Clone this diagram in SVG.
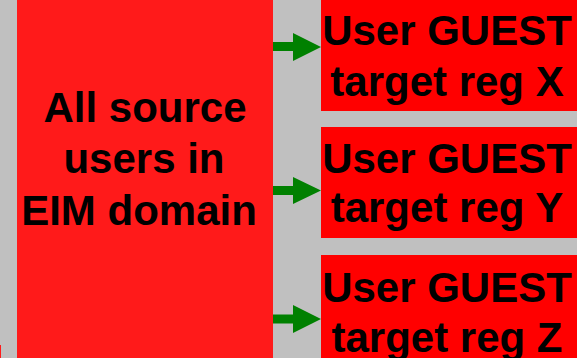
<svg xmlns="http://www.w3.org/2000/svg" width="577" height="358" viewBox="0 0 577 358">
<style>
.src{fill:#FF1A1A}
.tgt{fill:#FF0000}
.lbl{font-family:"Liberation Sans",Arial,sans-serif;font-weight:bold;font-size:42px;fill:#000;text-anchor:middle}
.arr{fill:#008000}
</style>
<rect x="0" y="0" width="577" height="358" fill="#C0C0C0"/>
<rect x="0" y="345" width="1" height="13" fill="#FF1A1A"/>
<g id="source">
<rect class="src" x="17" y="0" width="256" height="358"/>
<text class="lbl" x="145" y="122">All source</text>
<text class="lbl" x="144" y="173">users in</text>
<text class="lbl" x="139" y="225">EIM domain</text>
</g>
<g id="targetX">
<rect class="tgt" x="321" y="0" width="260" height="111"/>
<text class="lbl" x="447" y="45">User GUEST</text>
<text class="lbl" x="447" y="96">target reg X</text>
</g>
<g id="targetY">
<rect class="tgt" x="321" y="127" width="260" height="111"/>
<text class="lbl" x="447" y="173">User GUEST</text>
<text class="lbl" x="447" y="222">target reg Y</text>
</g>
<g id="targetZ">
<rect class="tgt" x="321" y="255" width="260" height="110"/>
<text class="lbl" x="447" y="302">User GUEST</text>
<text class="lbl" x="447" y="352">target reg Z</text>
</g>
<g id="connectors">
<path class="arr" d="M273,42 H293 V33 L321,47 L293,61 V51 H273 Z"/>
<path class="arr" d="M273,186 H293 V177 L321,190.5 L293,204 V195 H273 Z"/>
<path class="arr" d="M273,314.5 H293 V305 L321,319 L293,333 V323.5 H273 Z"/>
</g>
</svg>
